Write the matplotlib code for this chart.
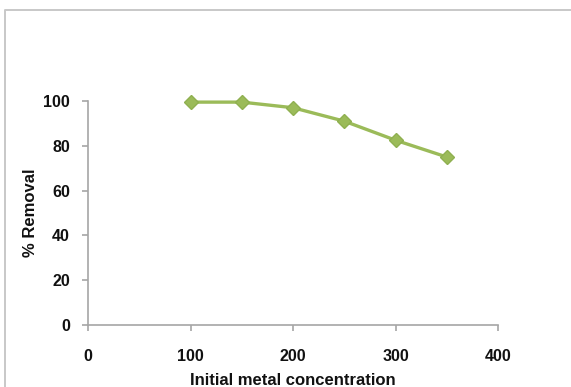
import matplotlib
matplotlib.use("Agg")
import matplotlib.pyplot as plt
from matplotlib.lines import Line2D

# initial metal concentration vs % removal
conc = [100, 150, 200, 250, 300, 350]
removal = [99.5, 99.5, 97, 91, 82.5, 75]
xticks = [0, 100, 200, 300, 400]
yticks = [0, 20, 40, 60, 80, 100]

plt.rcParams['font.family'] = ['Liberation Sans', 'DejaVu Sans']

fig = plt.figure(figsize=(5.71, 3.87), dpi=100)
fig.patch.set_facecolor('white')

# chart area border: only the left and top edges fall inside the image
bx, by = 5 / 571, 1 - 10 / 387
fig.lines.append(Line2D([bx, bx, 1.0], [0.0, by, by], transform=fig.transFigure,
                        color='#c8c8c8', linewidth=1.4))

ax = fig.add_axes([88 / 571, 1 - 325 / 387, 410 / 571, 224 / 387])
ax.plot(conc, removal, color='#9BBB59', linewidth=2.4, marker='D',
        markersize=7, markeredgecolor='#8fb050', clip_on=False, zorder=5)

ax.set_xlim(0, 400)
ax.set_ylim(0, 100)
ax.set_xticks(xticks)
ax.set_yticks(yticks)

for side in ['top', 'right']:
    ax.spines[side].set_visible(False)
for side in ['left', 'bottom']:
    ax.spines[side].set_color('#a6a6a6')
    ax.spines[side].set_linewidth(1.2)

ax.tick_params(axis='both', direction='out', length=4, width=1.2,
               color='#a6a6a6', labelsize=11.5, labelcolor='#111111')
ax.tick_params(axis='x', pad=13)
ax.tick_params(axis='y', pad=9)
for lbl in ax.get_xticklabels() + ax.get_yticklabels():
    lbl.set_fontweight('bold')

ax.set_xlabel('Initial metal concentration', fontsize=12, fontweight='bold',
              color='#111111', labelpad=7)
ax.set_ylabel('% Removal', fontsize=12, fontweight='bold', color='#111111',
              labelpad=4)

fig.savefig('out.png', dpi=100)
